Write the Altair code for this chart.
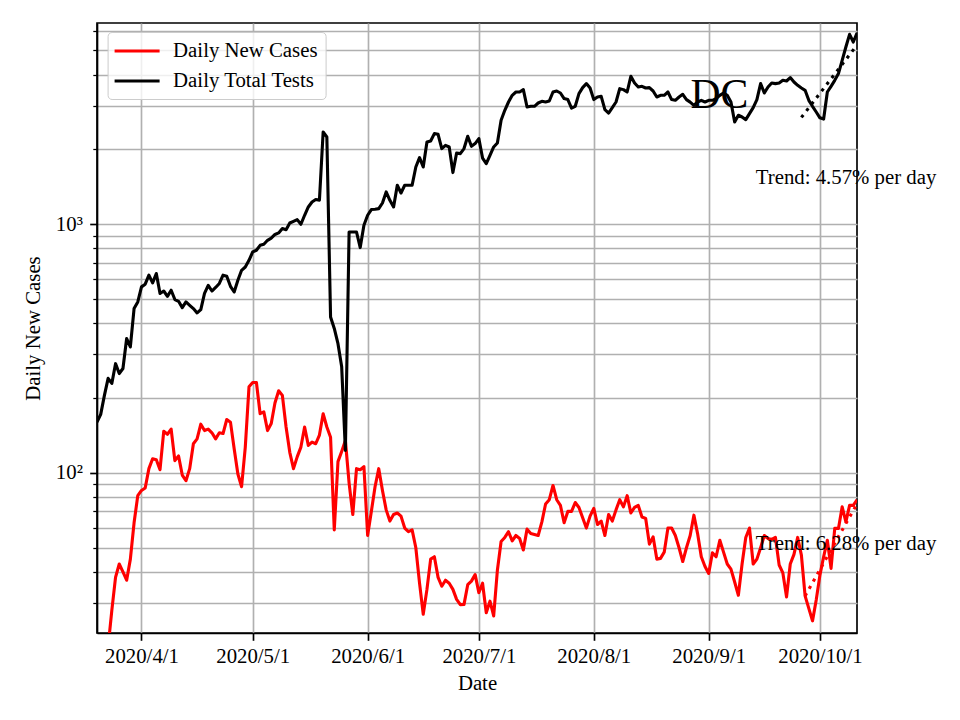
import altair as alt
import pandas as pd

FONT = "Liberation Serif"
FS = 20.8

start_date = "2020-03-20"

cases = [10, 12, 15, 20, 28, 38, 43, 40, 37, 45,
         63, 81, 85, 87, 104, 114, 113, 103, 147, 143,
         150, 112, 117, 98, 93, 104, 131, 137, 157, 148,
         150, 145, 137, 145, 144, 164, 160, 125, 99, 88,
         127, 222, 231, 231, 173, 176, 148, 158, 191, 214,
         205, 153, 121, 104, 116, 127, 153, 129, 133, 131,
         142, 173, 153, 139, 59, 111, 122, 135, 91, 68,
         104, 103, 106, 56, 70, 88, 104, 85, 71, 64,
         68, 69, 67, 60, 58, 59, 50, 36, 27, 34,
         45, 46, 38, 35, 37, 36, 34, 31, 29.5, 29.6,
         35.5, 36.7, 39, 33, 36, 27.4, 30.5, 26.6, 40.6, 53,
         55, 58, 53.3, 56, 54.5, 49, 59.4, 57, 56.5, 56,
         63.5, 75, 78, 89, 78, 74, 63, 70, 70, 76,
         72.6, 66, 60, 67, 72, 62, 64, 56, 68, 64,
         71, 78, 73, 81, 69, 72.6, 74, 66.5, 65.6, 51.7,
         55.3, 45, 45.3, 48, 60, 60, 56, 50, 44, 50,
         56, 67.6, 57, 46, 42, 39.4, 47.7, 46, 53.6, 48,
         43, 41, 36.4, 32.2, 43, 55, 60, 43, 45, 50,
         56, 54.5, 54, 55, 42.6, 39.6, 31.7, 43, 47, 55,
         46.7, 32, 28.5, 25.4, 30.8, 38.8, 46, 53.6, 41.3, 59.8,
         59.8, 73, 63.5, 74, 74, 78]

tests = [160, 172, 205, 240, 229, 275, 251, 263, 347, 321,
         458, 487, 560, 574, 624, 581, 634, 527, 539, 513,
         543, 498, 490, 462, 487, 472, 458, 440, 454, 527,
         568, 539, 557, 578, 624, 618, 563, 534, 595, 653,
         673, 716, 774, 786, 823, 831, 862, 880, 910, 923,
         961, 951, 1012, 1028, 1044, 1000, 1087, 1174, 1229, 1257,
         1251, 2350, 2244, 424, 381, 331, 267, 123, 931, 931,
         931, 806, 991, 1087, 1146, 1150, 1156, 1218, 1349, 1249,
         1174, 1435, 1336, 1435, 1435, 1435, 1700, 1854, 1700, 2142,
         2162, 2315, 2300, 2016, 2078, 2046, 1614, 1935, 1924, 2016,
         2259, 2059, 2111, 2211, 1847, 1754, 1894, 2046, 2123, 2619,
         2873, 3103, 3302, 3404, 3404, 3480, 2963, 2982, 2982, 3074,
         3123, 3103, 3132, 3404, 3436, 3373, 3202, 3173, 2935, 2982,
         3354, 3545, 3679, 3532, 3173, 3250, 3271, 2892, 2802, 2946,
         3103, 3512, 3480, 3404, 3937, 3700, 3566, 3589, 3532, 3545,
         3436, 3250, 3302, 3302, 3404, 3173, 3152, 3250, 3333, 3173,
         3100, 3009, 3103, 3152, 3103, 3152, 3152, 3202, 3300, 3373,
         3302, 3103, 2578, 2744, 2701, 2636, 2787, 2946, 3173, 3679,
         3373, 3565, 3700, 3679, 3700, 3793, 3769, 3890, 3734, 3622,
         3532, 3458, 3152, 2982, 2829, 2680, 2650, 3404, 3589, 3793,
         4036, 4564, 5163, 5807, 5408, 5877]

series_names = ["Daily New Cases", "Daily Total Tests"]
series_colors = ["#ff0000", "#000000"]

trend_tests_dates = ["2020-09-26", "2020-10-11"]
trend_tests_values = [2690, 5259]
trend_cases_dates = ["2020-09-27", "2020-10-11"]
trend_cases_values = [32.0, 75.1]

title_text = ["DC"]
title_date = ["2020-09-03T21:36:00"]
title_value = [2946]

trend_texts = ["Trend: 4.57% per day", "Trend: 6.28% per day"]
trend_text_dates = ["2020-09-13T16:48:00", "2020-09-13T16:48:00"]
trend_text_values = [1457, 48.9]

y_ticks = [30, 40, 50, 60, 70, 80, 90, 100, 200, 300, 400, 500, 600, 700,
           800, 900, 1000, 2000, 3000, 4000, 5000, 6000]
x_tick_months = [4, 5, 6, 7, 8, 9, 10]

n = len(cases)
dates = pd.date_range(start_date, periods=n, freq="D")
df = pd.DataFrame({
    "date": list(dates) + list(dates),
    "value": cases + tests,
    "series": [series_names[0]] * n + [series_names[1]] * n,
})
df_tt = pd.DataFrame({"date": pd.to_datetime(trend_tests_dates), "value": trend_tests_values})
df_tc = pd.DataFrame({"date": pd.to_datetime(trend_cases_dates), "value": trend_cases_values})
df_title = pd.DataFrame({"date": pd.to_datetime(title_date), "value": title_value, "label": title_text})
df_trtext = pd.DataFrame({"date": pd.to_datetime(trend_text_dates), "value": trend_text_values, "label": trend_texts})

x_axis = alt.Axis(
    values=[alt.DateTime(year=2020, month=m, date=1) for m in x_tick_months],
    format="%Y/%-m/%-d", formatType="time",
    labelBaseline="alphabetic", labelPadding=22, labelAlign="center",
    tickSize=7.3, labelOverlap=False, labelFlush=False,
    titleBaseline="alphabetic", titleY=56.6, titleAnchor="middle",
)
y_axis = alt.Axis(
    values=y_ticks,
    labelExpr="datum.value == 100 ? '10²' : (datum.value == 1000 ? '10³' : '')",
    tickSize={"condition": {"test": "datum.value == 100 || datum.value == 1000", "value": 7.3}, "value": 4.2},
    tickWidth={"condition": {"test": "datum.value == 100 || datum.value == 1000", "value": 1.67}, "value": 1.25},
    labelPadding=7.3, labelOverlap=False, labelFlush=False, labelBaseline="middle",
    titleX=-57.2, titleY=305, titleAngle=270, titleBaseline="alphabetic", titleAlign="center",
)

x_enc = alt.X("date:T", scale=alt.Scale(domain=[alt.DateTime(year=2020, month=3, date=20),
                                               alt.DateTime(year=2020, month=10, date=11)]),
              axis=x_axis, title="Date")
y_enc = alt.Y("value:Q", scale=alt.Scale(type="log", domain=[22.7, 6450], nice=False),
              axis=y_axis, title="Daily New Cases")

lines = alt.Chart(df).mark_line(clip=True, strokeWidth=3.1, strokeJoin="round").encode(
    x=x_enc, y=y_enc,
    color=alt.Color("series:N", scale=alt.Scale(domain=series_names, range=series_colors),
                    legend=alt.Legend(
                        orient="none", legendX=10.6, legendY=9, title=None,
                        symbolType="M-2.5,0H2.5", symbolSize=324, symbolStrokeWidth=3.1,
                        symbolOffset=10.5,
                        labelFont=FONT, labelFontSize=FS, labelColor="black",
                        padding=8, fillColor="rgba(255,255,255,0.8)", strokeColor="#cccccc",
                        cornerRadius=4, rowPadding=9, labelOffset=25,
                    )),
    detail="series:N",
)

trend_t = alt.Chart(df_tt).mark_line(color="black", strokeWidth=3.1, strokeDash=[3.1, 5.2],
                                     strokeCap="butt", clip=True).encode(x=x_enc, y=y_enc)
trend_c = alt.Chart(df_tc).mark_line(color="#ff0000", strokeWidth=3.1, strokeDash=[3.1, 5.2],
                                     strokeCap="butt", clip=True).encode(x=x_enc, y=y_enc)

title_layer = alt.Chart(df_title).mark_text(font=FONT, fontSize=41.7, align="center",
                                            baseline="alphabetic", color="black").encode(
    x=x_enc, y=y_enc, text="label:N")
trtext_layer = alt.Chart(df_trtext).mark_text(font=FONT, fontSize=FS, align="left",
                                              baseline="alphabetic", color="black").encode(
    x=x_enc, y=y_enc, text="label:N")

chart = alt.layer(lines, trend_t, trend_c, title_layer, trtext_layer).properties(
    width=760, height=610,
    padding={"left": 89, "top": 15, "right": 95, "bottom": 79},
    autosize=alt.AutoSizeParams(type="none"),
).configure_view(
    stroke="black", strokeWidth=1.67
).configure_axis(
    labelFont=FONT, labelFontSize=FS, labelColor="black",
    titleFont=FONT, titleFontSize=FS, titleColor="black", titleFontWeight="normal",
    tickColor="black", tickWidth=1.67, domainColor="black", domainWidth=1.67,
    gridColor="#b0b0b0", gridWidth=1.67, grid=True,
).configure_legend(
    labelFont=FONT, labelFontSize=FS, labelColor="black",
)

chart.save("out.html", embed_options={"renderer": "svg", "actions": False})
